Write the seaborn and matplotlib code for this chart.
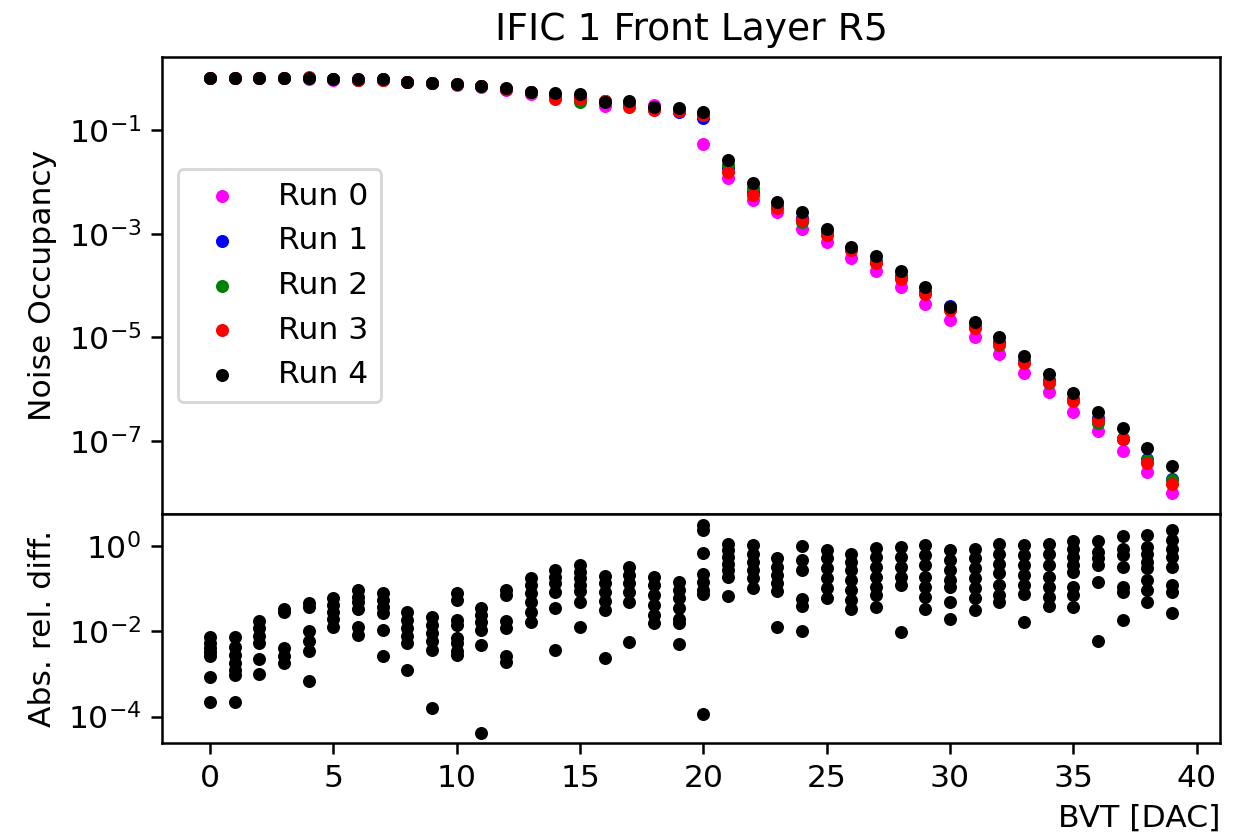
import numpy as np
import pandas as pd
import matplotlib
matplotlib.use("Agg")
import matplotlib.pyplot as plt
import matplotlib.ticker as mticker
import seaborn as sns

# ---------------- data ----------------
bvt = list(range(40))

run_labels = ["Run 0", "Run 1", "Run 2", "Run 3", "Run 4"]
run_colors = ["magenta", "blue", "green", "red", "black"]

run0 = [1.03, 1.03, 1.03, 1.02, 0.99, 0.95, 0.96, 0.95, 0.84, 0.81, 0.74, 0.68, 0.60, 0.51, 0.48,
        0.45, 0.294, 0.30, 0.30, 0.25, 5.37e-2, 1.20e-2, 4.46e-3, 2.65e-3, 1.23e-3, 6.79e-4,
        3.33e-4, 1.90e-4, 9.18e-5, 4.38e-5, 2.15e-5, 1.02e-5, 4.68e-6, 2.07e-6, 8.87e-7,
        3.65e-7, 1.55e-7, 6.35e-8, 2.54e-8, 9.68e-9]
run1 = [1.03, 1.03, 1.03, 1.02, 1.0, 0.97, 0.95, 0.98, 0.84, 0.82, 0.77, 0.71, 0.63, 0.55, 0.43,
        0.40, 0.36, 0.30, 0.26, 0.225, 0.173, 1.9e-2, 6.5e-3, 3.4e-3, 2.0e-3, 1.05e-3, 5.0e-4,
        3.0e-4, 1.5e-4, 7.5e-5, 4.1e-5, 1.65e-5, 8.0e-6, 3.5e-6, 1.5e-6, 6.5e-7, 2.8e-7,
        1.07e-7, 4.40e-8, 1.8e-8]
run2 = [1.03, 1.03, 1.03, 1.02, 1.0, 0.97, 0.95, 0.95, 0.84, 0.82, 0.77, 0.71, 0.63, 0.54, 0.42,
        0.343, 0.36, 0.30, 0.26, 0.245, 0.20, 2.11e-2, 7.69e-3, 3.3e-3, 1.70e-3, 1.0e-3, 5.0e-4,
        2.9e-4, 1.45e-4, 7.2e-5, 3.5e-5, 1.6e-5, 7.0e-6, 3.4e-6, 1.3e-6, 6.3e-7, 2.23e-7,
        1.15e-7, 4.2e-8, 1.75e-8]
run3 = [1.03, 1.03, 1.03, 1.02, 1.04, 0.97, 0.93, 0.95, 0.84, 0.83, 0.77, 0.71, 0.63, 0.54, 0.396,
        0.392, 0.37, 0.278, 0.243, 0.236, 0.195, 1.57e-2, 5.56e-3, 3.08e-3, 1.83e-3, 9.4e-4,
        4.82e-4, 2.67e-4, 1.31e-4, 6.73e-5, 3.35e-5, 1.49e-5, 7.4e-6, 3.22e-6, 1.38e-6,
        5.94e-7, 2.52e-7, 1.07e-7, 3.78e-8, 1.45e-8]
run4 = [1.03, 1.03, 1.03, 1.02, 0.995, 0.977, 0.966, 0.953, 0.845, 0.818, 0.773, 0.716, 0.638,
        0.548, 0.511, 0.495, 0.352, 0.368, 0.282, 0.262, 0.222, 2.64e-2, 9.35e-3, 4.13e-3,
        2.58e-3, 1.26e-3, 5.58e-4, 3.74e-4, 1.90e-4, 9.18e-5, 3.88e-5, 1.99e-5, 9.95e-6,
        4.34e-6, 1.95e-6, 8.49e-7, 3.65e-7, 1.74e-7, 7.16e-8, 3.27e-8]
runs = [run0, run1, run2, run3, run4]

# absolute relative differences between run pairs, one list per BVT value
rel_diff = [
    [7.2e-3, 5.3e-3, 4.1e-3, 3.3e-3, 2.6e-3, 8.5e-4, 2.2e-4],                       # 0
    [7.2e-3, 4.4e-3, 2.8e-3, 1.8e-3, 1.27e-3, 9.7e-4, 2.2e-4],                      # 1
    [1.77e-2, 1.19e-2, 8.0e-3, 5.3e-3, 2.3e-3, 1.0e-3],                             # 2
    [3.3e-2, 2.8e-2, 4.1e-3, 2.7e-3, 1.8e-3],                                       # 3
    [4.6e-2, 3.8e-2, 1.0e-2, 5.8e-3, 3.4e-3, 6.8e-4],                               # 4
    [6.0e-2, 4.2e-2, 2.9e-2, 2.0e-2, 1.3e-2],                                       # 5
    [9.4e-2, 6.5e-2, 4.8e-2, 3.4e-2, 1.3e-2, 8.3e-3],                               # 6
    [7.8e-2, 5.5e-2, 3.8e-2, 2.7e-2, 1.09e-2, 2.6e-3],                              # 7
    [2.9e-2, 1.87e-2, 1.19e-2, 8.0e-3, 5.3e-3, 1.27e-3],                            # 8
    [2.2e-2, 1.43e-2, 9.1e-3, 5.8e-3, 3.7e-3, 1.6e-4],                              # 9
    [7.8e-2, 5.5e-2, 1.87e-2, 1.43e-2, 7.0e-3, 5.3e-3, 3.4e-3, 2.8e-3],             # 10
    [3.5e-2, 2.4e-2, 1.7e-2, 1.09e-2, 4.7e-3, 4.2e-5],                              # 11
    [9.4e-2, 7.2e-2, 1.77e-2, 1.19e-2, 2.6e-3, 1.9e-3],                             # 12
    [0.176, 0.123, 7.8e-2, 5.0e-2, 2.9e-2, 1.7e-2],                                 # 13
    [0.275, 0.192, 0.134, 8.6e-2, 3.6e-2, 3.7e-3],                                  # 14
    [0.36, 0.25, 0.176, 0.123, 8.9e-2, 4.8e-2, 1.24e-2],                            # 15
    [0.203, 0.134, 8.6e-2, 5.2e-2, 3.2e-2, 2.4e-3],                                 # 16
    [0.329, 0.21, 0.134, 8.6e-2, 5.0e-2, 5.6e-3],                                   # 17
    [0.192, 0.123, 7.2e-2, 4.2e-2, 2.4e-2, 1.56e-2],                                # 18
    [0.147, 9.4e-2, 6.0e-2, 3.5e-2, 2.0e-2, 1.56e-2, 5.1e-3],                       # 19
    [3.2, 2.37, 0.71, 0.218, 0.147, 9.4e-2, 7.4e-2, 1.17e-4],                       # 20
    [1.15, 0.81, 0.56, 0.39, 0.275, 0.192, 6.9e-2],                                 # 21
    [1.05, 0.67, 0.43, 0.275, 0.176, 0.103],                                        # 22
    [0.515, 0.329, 0.21, 0.134, 8.9e-2, 1.24e-2],                                   # 23
    [1.02, 0.47, 0.275, 5.8e-2, 4.0e-2, 1.0e-2],                                    # 24
    [0.81, 0.515, 0.30, 0.176, 0.103, 6.0e-2],                                      # 25
    [0.67, 0.43, 0.275, 0.161, 9.4e-2, 5.5e-2, 3.3e-2],                             # 26
    [0.91, 0.56, 0.329, 0.192, 0.112, 7.2e-2, 3.8e-2],                              # 27
    [0.96, 0.56, 0.329, 0.192, 0.123, 9.6e-3],                                      # 28
    [1.05, 0.62, 0.36, 0.192, 0.112, 6.5e-2, 3.3e-2],                               # 29
    [0.81, 0.47, 0.275, 0.161, 0.112, 5.0e-2, 1.97e-2],                             # 30
    [0.88, 0.515, 0.30, 0.176, 0.103, 6.0e-2, 3.2e-2],                              # 31
    [1.15, 0.67, 0.39, 0.23, 0.123, 7.2e-2, 4.8e-2],                                # 32
    [1.05, 0.62, 0.36, 0.21, 0.123, 7.4e-2, 1.65e-2],                               # 33
    [1.15, 0.67, 0.36, 0.192, 0.112, 6.5e-2, 4.0e-2],                               # 34
    [1.31, 0.88, 0.56, 0.36, 0.243, 0.112, 7.2e-2, 3.8e-2],                         # 35
    [1.31, 0.74, 0.515, 0.36, 0.147, 6.0e-3],                                       # 36
    [1.74, 0.88, 0.62, 0.329, 0.112, 8.3e-2, 1.87e-2],                              # 37
    [1.81, 0.96, 0.67, 0.43, 0.30, 0.161, 9.4e-2, 5.0e-2],                          # 38
    [2.37, 1.38, 0.88, 0.56, 0.329, 0.123, 8.6e-2, 2.7e-2],                         # 39
]

title = "IFIC 1 Front Layer R5"
top_ylabel = "Noise Occupancy"
bottom_ylabel = "Abs. rel. diff."
xlabel = "BVT [DAC]"
bottom_yticks = [1e0, 1e-2, 1e-4]

# ---------------- style ----------------
scale = 1.13
plt.rcParams.update({
    "font.size": 10 * scale,
    "axes.linewidth": 0.8 * scale,
    "xtick.major.size": 3.5 * scale,
    "ytick.major.size": 3.5 * scale,
    "xtick.major.width": 0.8 * scale,
    "ytick.major.width": 0.8 * scale,
    "legend.fontsize": 10 * scale,
})

# ---------------- figure ----------------
fig = plt.figure(figsize=(1243 / 200, 836 / 200), dpi=200)
gs = fig.add_gridspec(2, 1, height_ratios=[2, 1], hspace=0,
                      left=0.1303, right=0.9815, top=0.9322, bottom=0.1112)
ax1 = fig.add_subplot(gs[0])
ax2 = fig.add_subplot(gs[1], sharex=ax1)

marker_s = 22
for lab, col, vals in zip(run_labels, run_colors, runs):
    df = pd.DataFrame({"BVT": bvt, "occ": vals})
    sns.scatterplot(data=df, x="BVT", y="occ", color=col, s=marker_s, linewidth=0,
                    label=lab, ax=ax1)
ax1.set_yscale("log")
ax1.set_title(title, fontsize=12 * scale)
ax1.set_ylabel(top_ylabel)
ax1.set_xlabel("")
ax1.tick_params(axis="x", labelbottom=False)
ax1.yaxis.set_minor_locator(mticker.NullLocator())
ax1.legend(loc="center left")

diff_x = [b for b, lst in zip(bvt, rel_diff) for _ in lst]
diff_y = [v for lst in rel_diff for v in lst]
ddf = pd.DataFrame({"BVT": diff_x, "diff": diff_y})
sns.scatterplot(data=ddf, x="BVT", y="diff", color="black", s=marker_s, linewidth=0, ax=ax2)
ax2.set_yscale("log")
ax2.yaxis.set_major_locator(mticker.FixedLocator(bottom_yticks))
ax2.yaxis.set_major_formatter(mticker.LogFormatterSciNotation())
ax2.yaxis.set_minor_locator(mticker.NullLocator())
ax2.set_ylabel(bottom_ylabel)
ax2.set_xlabel(xlabel, loc="right")
ax2.set_xticks([0, 5, 10, 15, 20, 25, 30, 35, 40])

fig.savefig("out.png", dpi=200)
